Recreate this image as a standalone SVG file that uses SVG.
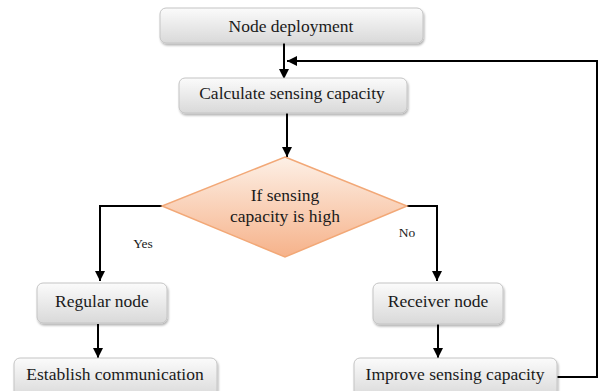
<svg xmlns="http://www.w3.org/2000/svg" width="603" height="391" viewBox="0 0 603 391">
  <defs>
    <linearGradient id="boxGrad" x1="0" y1="0" x2="0" y2="1">
      <stop offset="0" stop-color="#fbfbfb"/>
      <stop offset="1" stop-color="#d9d9d9"/>
    </linearGradient>
    <linearGradient id="diaGrad" x1="0" y1="0" x2="0" y2="1">
      <stop offset="0" stop-color="#fdf0e6"/>
      <stop offset="1" stop-color="#f6b28a"/>
    </linearGradient>
    <filter id="shadow" x="-10%" y="-20%" width="120%" height="150%">
      <feDropShadow dx="1" dy="2" stdDeviation="1.2" flood-color="#000" flood-opacity="0.3"/>
    </filter>
    <marker id="arrow" viewBox="0 0 10 10" refX="10" refY="5" markerWidth="5" markerHeight="5" orient="auto" markerUnits="strokeWidth">
      <path d="M0,0 L10,5 L0,10 z" fill="#000"/>
    </marker>
  </defs>
  <style>
    .box { fill: url(#boxGrad); stroke: #c4c4c4; stroke-width: 1; filter: url(#shadow); }
    .dia { fill: url(#diaGrad); stroke: #f2a877; stroke-width: 1.5; }
    text { font-family: 'Liberation Serif', 'DejaVu Serif', serif; fill: #1a1a1a; text-anchor: middle; }
    .lbl { font-size: 17.5px; }
    .small { font-size: 13.5px; }
    .conn { fill: none; stroke: #000; stroke-width: 2; }
  </style>

  <g id="connectors">
    <line class="conn" x1="284" y1="43" x2="284" y2="79" marker-end="url(#arrow)"/>
    <line class="conn" x1="287" y1="113" x2="287" y2="157" marker-end="url(#arrow)"/>
    <polyline class="conn" points="162,206 100,206 100,281" marker-end="url(#arrow)"/>
    <polyline class="conn" points="407,206 437,206 437,281" marker-end="url(#arrow)"/>
    <line class="conn" x1="98" y1="324" x2="98" y2="358" marker-end="url(#arrow)"/>
    <line class="conn" x1="438" y1="324" x2="438" y2="358" marker-end="url(#arrow)"/>
    <polyline class="conn" points="557,377 597,377 597,61 287,61" marker-end="url(#arrow)"/>
    <text class="small" x="143" y="248" font-family="Liberation Serif, DejaVu Serif, serif">Yes</text>
    <text class="small" x="407" y="237" font-family="Liberation Serif, DejaVu Serif, serif">No</text>
  </g>

  <g id="node-deployment">
    <rect class="box" x="160" y="8" width="263" height="35" rx="6"/>
    <text class="lbl" x="291" y="32" font-family="Liberation Serif, DejaVu Serif, serif">Node deployment</text>
  </g>

  <g id="calculate">
    <rect class="box" x="179" y="78" width="228" height="35" rx="6"/>
    <text class="lbl" x="292" y="99" font-family="Liberation Serif, DejaVu Serif, serif">Calculate sensing capacity</text>
  </g>

  <g id="decision">
    <polygon class="dia" points="285,157 407,206 285,257 162,206"/>
    <text class="lbl" x="285" y="201" font-family="Liberation Serif, DejaVu Serif, serif">If sensing</text>
    <text class="lbl" x="285" y="222" font-family="Liberation Serif, DejaVu Serif, serif">capacity is high</text>
  </g>

  <g id="regular-node">
    <rect class="box" x="37" y="283" width="130" height="40" rx="6"/>
    <text class="lbl" x="102" y="307" font-family="Liberation Serif, DejaVu Serif, serif">Regular node</text>
  </g>

  <g id="receiver-node">
    <rect class="box" x="373" y="283" width="130" height="41" rx="6"/>
    <text class="lbl" x="438" y="307" font-family="Liberation Serif, DejaVu Serif, serif">Receiver node</text>
  </g>

  <g id="establish">
    <rect class="box" x="14" y="358" width="203" height="40" rx="6"/>
    <text class="lbl" x="115" y="380" font-family="Liberation Serif, DejaVu Serif, serif">Establish communication</text>
  </g>

  <g id="improve">
    <rect class="box" x="354" y="358" width="203" height="40" rx="6"/>
    <text class="lbl" x="455" y="380" font-family="Liberation Serif, DejaVu Serif, serif">Improve sensing capacity</text>
  </g>
</svg>
